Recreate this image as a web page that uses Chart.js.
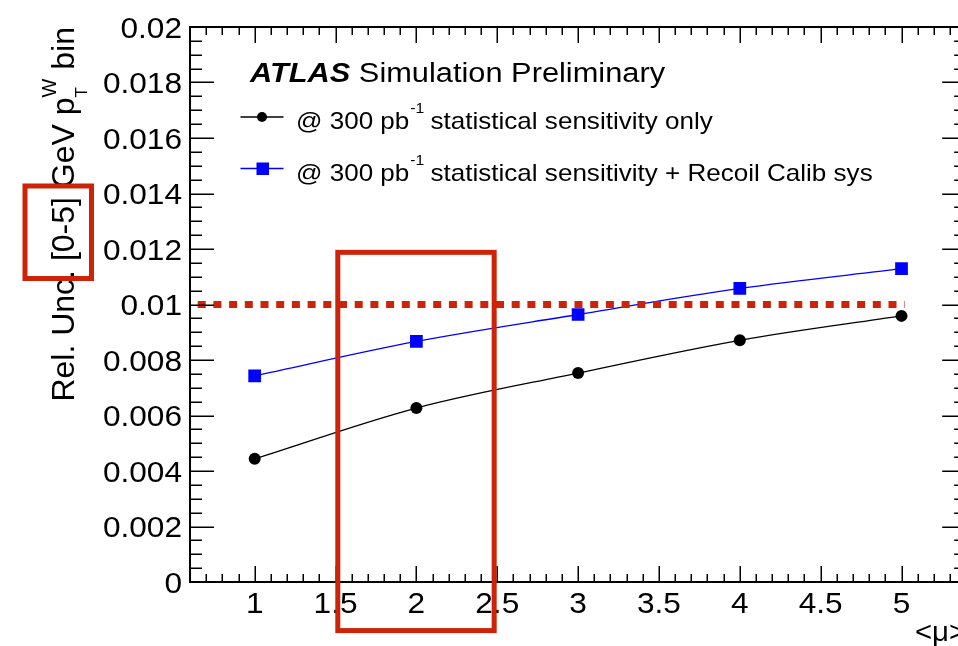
<!DOCTYPE html>
<html><head><meta charset="utf-8">
<script src="https://cdn.jsdelivr.net/npm/chart.js@4/dist/chart.umd.min.js"></script>
<style>
html,body{margin:0;padding:0;background:#fff;overflow:hidden;width:958px;height:646px}
#wrap{position:relative;width:980px;height:646px}
</style></head>
<body><div id="wrap"><canvas id="c" width="980" height="646"></canvas></div>
<script>
// ---- data ----
const muValues = [1, 2, 3, 4, 5];
const statOnly = [0.00444, 0.00627, 0.00753, 0.00871, 0.00959];
const statPlusCalib = [0.00743, 0.00867, 0.00964, 0.01058, 0.01129];
const thresholdX = [0.6, 5.02];
const thresholdY = [0.01, 0.01];
const xTickValues = [1, 1.5, 2, 2.5, 3, 3.5, 4, 4.5, 5];
const xTickLabels = ['1', '1.5', '2', '2.5', '3', '3.5', '4', '4.5', '5'];
const yTickValues = [0, 0.002, 0.004, 0.006, 0.008, 0.01, 0.012, 0.014, 0.016, 0.018, 0.02];
const yTickLabels = ['0', '0.002', '0.004', '0.006', '0.008', '0.01', '0.012', '0.014', '0.016', '0.018', '0.02'];
const seriesLabels = [
  ['@ 300 pb', '-1', ' statistical sensitivity only'],
  ['@ 300 pb', '-1', ' statistical sensitivity + Recoil Calib sys']
];
const headerBold = 'ATLAS';
const headerText = ' Simulation Preliminary';
const yTitleMain = 'Rel. Unc. [0-5] GeV p';
const yTitleSup = 'W';
const yTitleSub = 'T';
const yTitleEnd = ' bin';
const xTitle = '<\u03BC>';
// highlight box in axis units [xMin, xMax, yMin, yMax]
const highlightBox = [1.514, 2.481, -0.00175, 0.01188];

const RED = '#cc2309';
const FONT = '"Liberation Sans", Arial, Helvetica, sans-serif';

function pts(xs, ys) { return xs.map((x, i) => ({x: x, y: ys[i]})); }

function stretchText(ctx, txt, x, y, sx, align) {
  const w = ctx.measureText(txt).width * sx;
  let x0 = x;
  if (align === 'right') x0 = x - w;
  else if (align === 'center') x0 = x - w / 2;
  ctx.save();
  ctx.translate(x0, y);
  ctx.scale(sx, 1);
  ctx.textAlign = 'left';
  ctx.fillText(txt, 0, 0);
  ctx.restore();
  return w;
}

const decorPlugin = {
  id: 'decor',
  afterDraw(chart) {
    const ctx = chart.ctx;
    const a = chart.chartArea;
    const xs = chart.scales.x, ys = chart.scales.y;
    ctx.save();
    // ticks
    ctx.strokeStyle = '#000';
    ctx.lineWidth = 1.5;
    ctx.beginPath();
    for (let i = 6; i <= 54; i++) {
      const v = i / 10;
      const px = Math.round(xs.getPixelForValue(v)) + 0.25;
      const major = (i % 5 === 0);
      const L = major ? 16 : 8;
      ctx.moveTo(px, a.bottom); ctx.lineTo(px, a.bottom - L);
      ctx.moveTo(px, a.top); ctx.lineTo(px, a.top + L);
    }
    for (let i = 0; i <= 40; i++) {
      const v = i * 0.0005;
      const py = Math.round(ys.getPixelForValue(v)) + 0.25;
      const major = (i % 4 === 0);
      const L = major ? 24 : 12;
      ctx.moveTo(a.left, py); ctx.lineTo(a.left + L, py);
      ctx.moveTo(a.right, py); ctx.lineTo(a.right - L, py);
    }
    ctx.stroke();
    ctx.lineWidth = 2;
    ctx.strokeRect(a.left, a.top, a.right - a.left, a.bottom - a.top);

    // tick labels (from the scales)
    ctx.fillStyle = '#000';
    ctx.textBaseline = 'alphabetic';
    ctx.font = '29px ' + FONT;
    xs.ticks.forEach((t, i) => {
      const px = xs.getPixelForValue(t.value);
      stretchText(ctx, xTickLabels[i], px, 613, 1.09, 'center');
    });
    ys.ticks.forEach((t, i) => {
      const py = ys.getPixelForValue(t.value);
      stretchText(ctx, yTickLabels[i], 182, py + 10.5, 1.09, 'right');
    });

    // x title
    ctx.font = '28px ' + FONT;
    stretchText(ctx, xTitle, a.right, 641, 1.05, 'right');

    // y title (rotated)
    ctx.save();
    ctx.font = '32px ' + FONT;
    const w1 = ctx.measureText(yTitleMain).width;
    const w3 = ctx.measureText(yTitleEnd).width;
    ctx.font = '20px ' + FONT;
    const wW = ctx.measureText(yTitleSup).width;
    ctx.font = '17px ' + FONT;
    const wT = ctx.measureText(yTitleSub).width;
    const wS = Math.max(wW, wT);
    const total = w1 + wS + w3;
    ctx.translate(74, a.top + total);
    ctx.rotate(-Math.PI / 2);
    ctx.font = '32px ' + FONT;
    ctx.fillText(yTitleMain, 0, 0);
    ctx.font = '20px ' + FONT;
    ctx.fillText(yTitleSup, w1, -18);
    ctx.font = '17px ' + FONT;
    ctx.fillText(yTitleSub, w1, 13);
    ctx.font = '32px ' + FONT;
    ctx.fillText(yTitleEnd, w1 + wS, 0);
    ctx.restore();

    // header
    ctx.font = 'italic bold 27px ' + FONT;
    const wb = stretchText(ctx, headerBold, 250, 82, 1.14, 'left');
    ctx.font = '27px ' + FONT;
    stretchText(ctx, headerText, 250 + wb, 82, 1.14, 'left');

    // legend
    const rows = [
      {y: 117, color: '#000', style: 'circle'},
      {y: 168.5, color: '#0000ff', style: 'rect'}
    ];
    rows.forEach((r, i) => {
      ctx.strokeStyle = r.color;
      ctx.fillStyle = r.color;
      ctx.lineWidth = 1.5;
      ctx.beginPath(); ctx.moveTo(240.5, r.y); ctx.lineTo(283.5, r.y); ctx.stroke();
      if (r.style === 'circle') {
        ctx.beginPath(); ctx.arc(262, r.y, 5, 0, Math.PI * 2); ctx.fill();
      } else {
        ctx.fillRect(256.5, r.y - 6, 12.5, 12.5);
      }
      ctx.fillStyle = '#000';
      const parts = seriesLabels[i];
      let x = 296;
      const base = r.y + 12;
      ctx.font = '24px ' + FONT;
      x += stretchText(ctx, parts[0], x, base, 1.085, 'left');
      ctx.font = '15px ' + FONT;
      x += stretchText(ctx, parts[1], x + 1, base - 16, 1.05, 'left');
      ctx.font = '24px ' + FONT;
      stretchText(ctx, parts[2], x, base, 1.085, 'left');
    });

    // annotation boxes
    ctx.strokeStyle = RED;
    ctx.lineWidth = 5;
    const bx0 = xs.getPixelForValue(highlightBox[0]);
    const bx1 = xs.getPixelForValue(highlightBox[1]);
    const by0 = ys.getPixelForValue(highlightBox[3]);
    const by1 = ys.getPixelForValue(highlightBox[2]);
    ctx.strokeRect(bx0, by0, bx1 - bx0, by1 - by0);
    ctx.strokeRect(25, 186, 66.5, 92.5);
    ctx.restore();
  }
};

new Chart(document.getElementById('c'), {
  type: 'scatter',
  data: {
    datasets: [
      {
        label: 'threshold',
        data: pts(thresholdX, thresholdY),
        showLine: true,
        borderColor: RED,
        borderWidth: 7,
        borderDash: [8, 7.7],
        borderDashOffset: 8,
        borderCapStyle: 'butt',
        pointRadius: 0,
        fill: false
      },
      {
        label: 'stat only',
        data: pts(muValues, statOnly),
        showLine: true,
        borderColor: '#000',
        backgroundColor: '#000',
        borderWidth: 1.3,
        pointStyle: 'circle',
        pointRadius: 6,
        pointBorderWidth: 0,
        cubicInterpolationMode: 'monotone',
        fill: false
      },
      {
        label: 'stat + recoil',
        data: pts(muValues, statPlusCalib),
        showLine: true,
        borderColor: '#0000ff',
        backgroundColor: '#0000ff',
        borderWidth: 1.3,
        pointStyle: 'rect',
        pointRadius: 9,
        pointBorderWidth: 0,
        cubicInterpolationMode: 'monotone',
        fill: false
      }
    ]
  },
  options: {
    responsive: false,
    animation: false,
    devicePixelRatio: 1,
    layout: {padding: {left: 0, right: 13.8, top: 27, bottom: 0}},
    plugins: {legend: {display: false}, tooltip: {enabled: false}, title: {display: false}},
    scales: {
      x: {
        type: 'linear', min: 0.6, max: 5.4,
        grid: {display: false}, border: {display: false},
        ticks: {display: false},
        afterBuildTicks: s => { s.ticks = xTickValues.map(v => ({value: v})); },
        afterFit: s => { s.height = 64; }
      },
      y: {
        type: 'linear', min: 0, max: 0.02,
        grid: {display: false}, border: {display: false},
        ticks: {display: false},
        afterBuildTicks: s => { s.ticks = yTickValues.map(v => ({value: v})); },
        afterFit: s => { s.width = 190; }
      }
    }
  },
  plugins: [decorPlugin]
});
</script>
</body></html>
